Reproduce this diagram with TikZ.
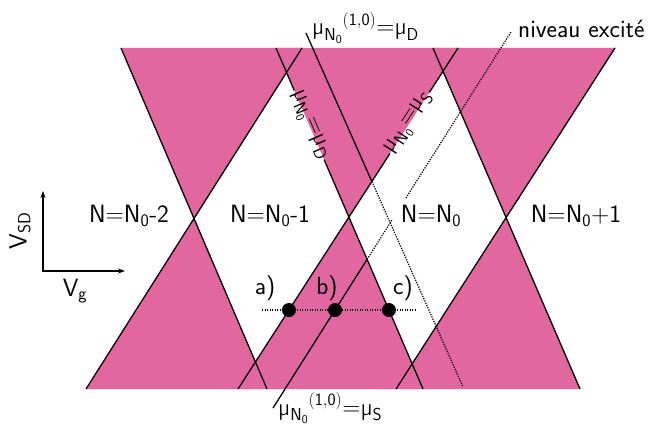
\documentclass[tikz,border=0pt]{standalone}
\usetikzlibrary{arrows.meta}
\definecolor{dpink}{RGB}{226,102,160}
\newcommand{\muN}{\mbox{µ}_{\mathsf{N}_{\mathsf{0}}}}
\begin{document}
\begin{tikzpicture}[x=1pt,y=-1pt,
  lbl/.style={font=\sffamily\fontsize{25}{29}\selectfont, inner sep=1pt},
  mainline/.style={line width=1.3pt, draw=black},
  dotline/.style={line width=1.25pt, dash pattern=on 1.2pt off 1.3pt},
  pinkfill/.style={fill=dpink},
  bigdot/.style={circle, fill=black, minimum size=14pt, inner sep=0pt},
  axisarrow/.style={line width=1.1pt, {Stealth[length=7pt,width=5pt]}-{Stealth[length=7pt,width=5pt]}}
]
\useasboundingbox (0,0) rectangle (653,433);

% main lines end points
\coordinate (L1t) at (121,48);  \coordinate (L1b) at (267,389);
\coordinate (R1b) at (86,389);  \coordinate (R1t) at (302,48);
\coordinate (L2t) at (276,48);  \coordinate (L2b) at (423,389);
\coordinate (R2b) at (238,389); \coordinate (R2t) at (458,48);
\coordinate (L3t) at (433,48);  \coordinate (L3b) at (580,389);
\coordinate (R3b) at (396,389); \coordinate (R3t) at (615,48);
\coordinate (P1) at (intersection of L1t--L1b and R1b--R1t);
\coordinate (P2) at (intersection of L2t--L2b and R2b--R2t);
\coordinate (P3) at (intersection of L3t--L3b and R3b--R3t);

% pink regions
\fill[pinkfill] (L1t) -- (R1t) -- (P1) -- cycle;
\fill[pinkfill] (R1b) -- (L1b) -- (P1) -- cycle;
\fill[pinkfill] (L2t) -- (R2t) -- (P2) -- cycle;
\fill[pinkfill] (R2b) -- (L2b) -- (P2) -- cycle;
\fill[pinkfill] (L3t) -- (R3t) -- (P3) -- cycle;
\fill[pinkfill] (R3b) -- (L3b) -- (P3) -- cycle;

% main lines
\draw[mainline] (L1t) -- (L1b);
\draw[mainline] (R1b) -- (R1t);
\draw[mainline] (L3t) -- (L3b);
\draw[mainline] (R3b) -- (R3t);
\path (L2t) -- (L2b) node[lbl, sloped, pos=0.226] (lD) {$\muN\mbox{=µ}_{\mathsf{D}}$};
\draw[mainline] (L2t) -- (lD);
\draw[mainline] (lD) -- (L2b);
\path (R2b) -- (R2t) node[lbl, sloped, pos=0.78] (lS) {$\muN\mbox{=µ}_{\mathsf{S}}$};
\draw[mainline] (R2b) -- (lS);
\draw[mainline] (lS) -- (R2t);

% excited-state lines
\coordinate (At) at (306,33);  \coordinate (Ab) at (463,387);
\coordinate (Bb) at (273,408); \coordinate (Bt) at (511,32);
\coordinate (XA) at (intersection of At--Ab and R2b--R2t);
\coordinate (XB) at (intersection of Bb--Bt and L2t--L2b);
\coordinate (G1) at (intersection of Bb--Bt and 0,220--653,220);
\coordinate (G2) at (intersection of Bb--Bt and 0,198--653,198);
\draw[mainline] (At) -- (XA);
\draw[dotline] (XA) -- (Ab);
\draw[mainline] (Bb) -- (XB);
\draw[dotline] (XB) -- (G1);
\draw[dotline] (G2) -- (Bt);

% horizontal cut and dots
\coordinate (H1) at (262,310); \coordinate (H2) at (415,310);
\draw[dotline] (H1) -- (H2);
\node[bigdot] (da) at (intersection of H1--H2 and R2b--R2t) {};
\node[bigdot] (db) at (intersection of H1--H2 and Bb--Bt) {};
\node[bigdot] (dc) at (intersection of H1--H2 and L2t--L2b) {};
\node[lbl] (la) at (265,288) {a)};
\node[lbl] (lb) at (327,288) {b)};
\node[lbl] (lc) at (403,288) {c)};

% region labels
\node[lbl] (n1) at (129,216) {N=N\textsubscript{0}-2};
\node[lbl] (n2) at (270,216) {N=N\textsubscript{0}-1};
\node[lbl] (n3) at (431,216) {N=N\textsubscript{0}};
\node[lbl] (n4) at (576,216) {N=N\textsubscript{0}+1};

% end labels
\node[lbl, anchor=base west] (topD) at (311,35) {$\muN{}^{(\mathsf{1,0})}\mbox{=µ}_{\mathsf{D}}$};
\node[lbl, anchor=base west] (botS) at (277,415) {$\muN{}^{(\mathsf{1,0})}\mbox{=µ}_{\mathsf{S}}$};
\node[lbl, anchor=base west] (exc) at (517,38) {niveau excité};

% axes
\coordinate (O) at (43,271); \coordinate (Vy) at (43,191); \coordinate (Vx) at (125,271);
\draw[axisarrow] (Vy) -- (O) -- (Vx);
\node[lbl, rotate=90] (vsd) at (20,231) {V\textsubscript{SD}};
\node[lbl] (vg) at (75,291) {V\textsubscript{g}};
\end{tikzpicture}
\end{document}
